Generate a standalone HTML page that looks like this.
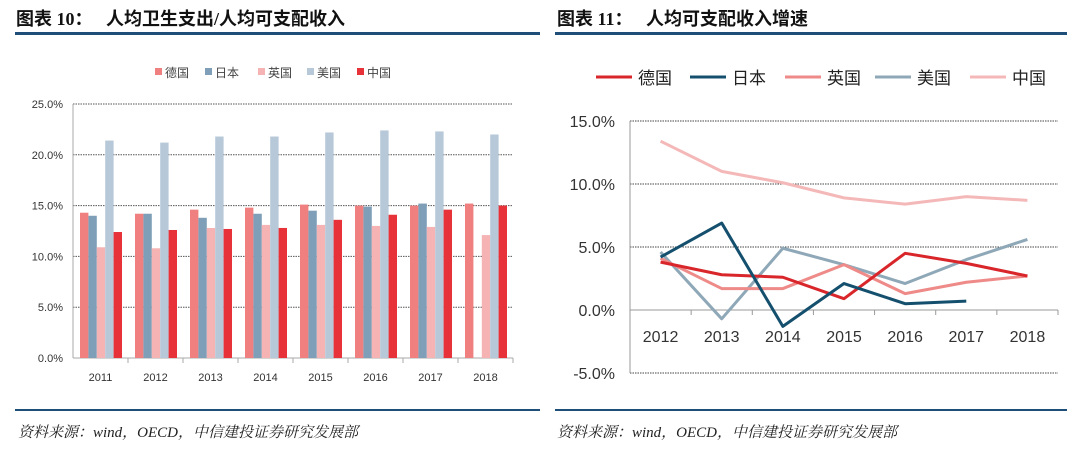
<!DOCTYPE html>
<html><head><meta charset="utf-8"><style>
body{margin:0;width:1080px;height:449px;background:#fff;font-family:"Liberation Sans","Noto Sans CJK SC",sans-serif;overflow:hidden;position:relative}
.t{position:absolute;top:5px;font-size:18px;font-weight:bold;color:#111;font-family:"Liberation Serif","Noto Sans CJK SC",sans-serif}
.bar{position:absolute;height:3px;background:#1f4e79}
.bl{position:absolute;height:2px;background:#1f4e79}
.src{position:absolute;top:421px;font-size:15px;font-style:italic;color:#222;font-family:"Liberation Serif","Noto Serif CJK SC",serif}
</style></head><body>
<div class="t" style="left:16px">图表 10：&nbsp;&nbsp; 人均卫生支出/人均可支配收入</div>
<div class="t" style="left:557px">图表 11：&nbsp;&nbsp; 人均可支配收入增速</div>
<div class="bar" style="left:15px;width:525px;top:32px"></div>
<div class="bar" style="left:555px;width:512px;top:32px"></div>
<div class="bl" style="left:15px;width:525px;top:409px"></div>
<div class="bl" style="left:555px;width:512px;top:409px"></div>
<div class="src" style="left:18px">资料来源：wind，OECD，中信建投证券研究发展部</div>
<div class="src" style="left:557px">资料来源：wind，OECD，中信建投证券研究发展部</div>
<svg id="c1" width="540" height="400" style="position:absolute;left:0;top:0"></svg>
<svg id="c2" width="540" height="400" style="position:absolute;left:540px;top:0"></svg>
<script>
const barYears=["2011","2012","2013","2014","2015","2016","2017","2018"];
const barSeries=["德国","日本","英国","美国","中国"];
const deHealth=[14.3,14.2,14.6,14.8,15.1,15.0,15.0,15.2];
const jpHealth=[14.0,14.2,13.8,14.2,14.5,14.9,15.2,null];
const ukHealth=[10.9,10.8,12.8,13.1,13.1,13.0,12.9,12.1];
const usHealth=[21.4,21.2,21.8,21.8,22.2,22.4,22.3,22.0];
const cnHealth=[12.4,12.6,12.7,12.8,13.6,14.1,14.6,15.0];
const barTicks=[0,5,10,15,20,25];
const lineYears=["2012","2013","2014","2015","2016","2017","2018"];
const deGrowth=[3.8,2.8,2.6,0.9,4.5,3.7,2.7];
const jpGrowth=[4.2,6.9,-1.3,2.1,0.5,0.7,null];
const ukGrowth=[4.1,1.7,1.7,3.6,1.3,2.2,2.7];
const usGrowth=[4.6,-0.7,4.9,3.6,2.1,4.0,5.6];
const cnGrowth=[13.4,11.0,10.1,8.9,8.4,9.0,8.7];
const lineTicks=[-5,0,5,10,15];
const NS="http://www.w3.org/2000/svg";
function mk(p,t,a){const e=document.createElementNS(NS,t);for(const k in a)e.setAttribute(k,a[k]);p.appendChild(e);return e;}
// bar chart
(function(){
const s=document.getElementById('c1');
const cols=["#f08080","#7f9fb8","#f6b3b3","#b7c9d8","#e8323a"];
const data=[deHealth,jpHealth,ukHealth,usHealth,cnHealth];
const x0=73,x1=513,gw=(x1-x0)/barYears.length;
const y=v=>358-v*(254/25);
barTicks.forEach(t=>{
 if(t>0){const g=mk(s,'line',{x1:x0,x2:x1,y1:y(t),y2:y(t),stroke:'#555','stroke-dasharray':'1.5,1'});
 }
 const l=mk(s,'text',{x:63,y:y(t)+4,'text-anchor':'end','font-size':11,fill:'#333'});l.textContent=t.toFixed(1)+'%';
 
});
mk(s,'line',{x1:x0,x2:x0,y1:y(25),y2:358,stroke:'#aaa'});
mk(s,'line',{x1:x0,x2:x1,y1:358,y2:358,stroke:'#aaa'});
barYears.forEach((yr,i)=>{
 mk(s,'line',{x1:x0+gw*(i+1),x2:x0+gw*(i+1),y1:358,y2:363,stroke:'#aaa'});
 const l=mk(s,'text',{x:x0+gw*(i+0.5),y:381,'text-anchor':'middle','font-size':11,fill:'#333'});l.textContent=yr;
 
 data.forEach((ser,k)=>{const v=ser[i];if(v==null)return;
  const r=mk(s,'rect',{x:x0+gw*i+7+k*8.4,y:y(v),width:8.4,height:358-y(v),fill:cols[k]});
  });
});
const lx=[155,205,258,307,357];
barSeries.forEach((n,k)=>{
 const r=mk(s,'rect',{x:lx[k],y:68,width:7,height:7,fill:cols[k]});
 
 const t=mk(s,'text',{x:lx[k]+10,y:77,'font-size':12,fill:'#444'});t.textContent=n;
 
});
})();
// line chart
(function(){
const s=document.getElementById('c2');
const cols=["#d9262b","#14506e","#ee8a88","#8fa8b8","#f4b8b8"];
const data=[deGrowth,jpGrowth,ukGrowth,usGrowth,cnGrowth];
const x0=90,x1=518,gw=(x1-x0)/lineYears.length;
const y=v=>310-v*(189/15);
const xp=i=>x0+gw*(i+0.5);
lineTicks.forEach(t=>{
 if(t!==0){const g=mk(s,'line',{x1:x0,x2:x1,y1:y(t),y2:y(t),stroke:'#444','stroke-dasharray':'1.5,1'});
 }
 const l=mk(s,'text',{x:75,y:y(t)+6,'text-anchor':'end','font-size':16,fill:'#333'});l.textContent=t.toFixed(1)+'%';
 
});
mk(s,'line',{x1:x0,x2:x0,y1:y(15),y2:y(-5),stroke:'#999'});
mk(s,'line',{x1:x0,x2:x1,y1:310,y2:310,stroke:'#999'});
lineYears.forEach((yr,i)=>{
 mk(s,'line',{x1:x0+gw*(i+1),x2:x0+gw*(i+1),y1:310,y2:315,stroke:'#999'});
 const l=mk(s,'text',{x:xp(i),y:342,'text-anchor':'middle','font-size':16,fill:'#333'});l.textContent=yr;
 
});
[4,3,2,0,1].forEach(k=>{
 const pts=data[k].map((v,i)=>v==null?null:xp(i)+','+y(v)).filter(p=>p);
 const p=mk(s,'polyline',{points:pts.join(' '),fill:'none',stroke:cols[k],'stroke-width':3,'stroke-linejoin':'round'});
 
});
const names=["德国","日本","英国","美国","中国"];
const lx=[56,150,245,335,430];
names.forEach((n,k)=>{
 const l=mk(s,'line',{x1:lx[k],x2:lx[k]+36,y1:77,y2:77,stroke:cols[k],'stroke-width':3});
 
 const t=mk(s,'text',{x:lx[k]+42,y:84,'font-size':17,fill:'#222'});t.textContent=n;
 
});
})();
</script>
</body></html>
